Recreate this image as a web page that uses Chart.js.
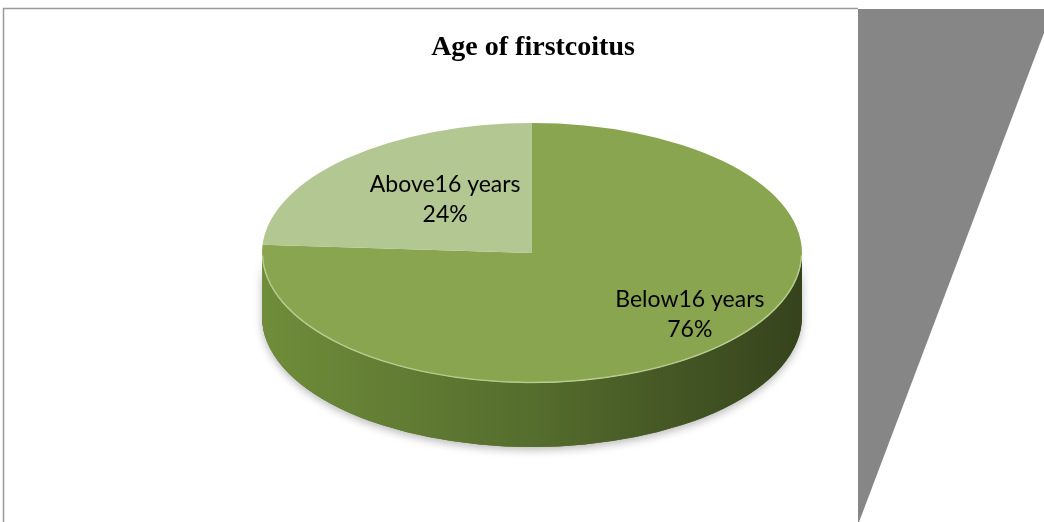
<!DOCTYPE html>
<html>
<head>
<meta charset="utf-8">
<title>Age of firstcoitus</title>
<script src="https://cdn.jsdelivr.net/npm/chart.js@4.4.1/dist/chart.umd.min.js"></script>
<style>
  html, body { margin: 0; padding: 0; background: #ffffff; }
  #wrap { width: 1044px; height: 522px; }
</style>
</head>
<body>
<div id="wrap"><canvas id="pie" width="1044" height="522"></canvas></div>
<script>
// Age-group categories and their shares (percent)
const categories = ['Below16 years', 'Above16 years'];
const shares = [76, 24];

// Top-face colours of the slices and the darker wall shades
const topColors = ['#8aa54f', '#b3c792'];
const wallStops = [['#6f8d3a', '#556d2d', '#35431c'], ['#8fa46d', '#7a8f5a', '#5f7046']];

// Geometry of the tilted disc
const disc = { cx: 532, cy: 253, rx: 270, ry: 130, depth: 64 };
// Label placement: fraction of radius and turn (degrees) from the slice's middle angle
const labelReach = [0.75, 0.52];
const labelTurn = [-8, 5];

function sliceArcs(chart) {
  return chart.getDatasetMeta(0).data;
}

// Maps a point of the flat library pie onto the tilted disc
function project(arc, px, py) {
  const R = arc.outerRadius;
  return {
    x: disc.cx + (px - arc.x) * disc.rx / R,
    y: disc.cy + (py - arc.y) * disc.ry / R
  };
}

const frame = {
  id: 'frame',
  beforeDraw(chart) {
    const ctx = chart.ctx;
    ctx.save();
    ctx.fillStyle = '#ffffff';
    ctx.fillRect(0, 0, chart.width, chart.height);
    // panel outline
    ctx.strokeStyle = '#9a9a9a';
    ctx.lineWidth = 1.5;
    ctx.beginPath();
    ctx.moveTo(3.5, chart.height);
    ctx.lineTo(3.5, 8.5);
    ctx.lineTo(858, 8.5);
    ctx.stroke();
    // grey wedge on the right
    ctx.fillStyle = '#868686';
    ctx.beginPath();
    ctx.moveTo(858, 9);
    ctx.lineTo(1044, 9);
    ctx.lineTo(1044, 33);
    ctx.lineTo(859, 522);
    ctx.lineTo(858, 522);
    ctx.closePath();
    ctx.fill();
    ctx.restore();
  }
};

const tilt = {
  id: 'tilt',
  beforeDatasetsDraw(chart) {
    const ctx = chart.ctx;
    const arcs = sliceArcs(chart);
    if (!arcs.length) return;
    const { cx, cy, rx, ry, depth } = disc;

    // soft shadow under the disc
    ctx.save();
    ctx.shadowColor = 'rgba(0,0,0,0.28)';
    ctx.shadowBlur = 9;
    ctx.shadowOffsetY = 3;
    ctx.fillStyle = '#556b2e';
    ctx.beginPath();
    ctx.ellipse(cx, cy + depth, rx, ry, 0, 0, Math.PI);
    ctx.lineTo(cx - rx, cy);
    ctx.ellipse(cx, cy, rx, ry, 0, Math.PI, 0, true);
    ctx.closePath();
    ctx.fill();
    ctx.restore();

    // side walls of the slices that face the viewer
    arcs.forEach((arc, i) => {
      const a0 = Math.max(arc.startAngle, 0);
      const a1 = Math.min(arc.endAngle, Math.PI);
      const b0 = Math.max(arc.startAngle - 2 * Math.PI, 0);
      const b1 = Math.min(arc.endAngle - 2 * Math.PI, Math.PI);
      [[a0, a1], [b0, b1]].forEach(([s, e]) => {
        if (e <= s) return;
        const g = ctx.createLinearGradient(cx - rx, 0, cx + rx, 0);
        const st = wallStops[i % wallStops.length];
        g.addColorStop(0, st[0]);
        g.addColorStop(0.5, st[1]);
        g.addColorStop(1, st[2]);
        ctx.save();
        ctx.fillStyle = g;
        ctx.beginPath();
        ctx.ellipse(cx, cy, rx, ry, 0, s, e);
        ctx.ellipse(cx, cy + depth, rx, ry, 0, e, s, true);
        ctx.closePath();
        ctx.fill();
        ctx.restore();
      });
    });

    // flatten the library's pie onto the disc's top face
    const arc = arcs[0];
    const R = arc.outerRadius;
    ctx.save();
    ctx.translate(cx, cy);
    ctx.scale(rx / R, ry / R);
    ctx.translate(-arc.x, -arc.y);
  },
  afterDatasetsDraw(chart) {
    const ctx = chart.ctx;
    const arcs = sliceArcs(chart);
    if (!arcs.length) return;
    ctx.restore();
    const { cx, cy, rx, ry } = disc;

    // light rim along the front edge of the top face
    ctx.save();
    ctx.strokeStyle = 'rgba(220,235,190,0.55)';
    ctx.lineWidth = 1.5;
    ctx.beginPath();
    ctx.ellipse(cx, cy, rx - 0.5, ry - 0.5, 0, 0.02, Math.PI - 0.02);
    ctx.stroke();
    ctx.restore();

    // data labels: category and share
    ctx.save();
    ctx.fillStyle = '#000000';
    ctx.textAlign = 'center';
    ctx.textBaseline = 'middle';
    ctx.font = '23px Lato, "Open Sans", sans-serif';
    arcs.forEach((a, i) => {
      const mid = (a.startAngle + a.endAngle) / 2 + labelTurn[i] * Math.PI / 180;
      const r = a.outerRadius * labelReach[i];
      const p = project(a, a.x + Math.cos(mid) * r, a.y + Math.sin(mid) * r);
      ctx.fillText(categories[i], p.x, p.y - 15);
      ctx.fillText(shares[i] + '%', p.x, p.y + 15);
    });
    ctx.restore();
  }
};

new Chart(document.getElementById('pie'), {
  type: 'pie',
  data: {
    labels: categories,
    datasets: [{
      data: shares,
      backgroundColor: topColors,
      borderWidth: 0,
      clip: false
    }]
  },
  options: {
    responsive: false,
    animation: false,
    events: [],
    layout: { padding: { left: 22, right: 0, top: 0, bottom: 20 } },
    plugins: {
      legend: { display: false },
      tooltip: { enabled: false },
      title: {
        display: true,
        text: 'Age of firstcoitus',
        color: '#000000',
        font: { family: '"Liberation Serif", "Times New Roman", serif', size: 28, weight: 'bold' },
        padding: { top: 31, bottom: 10 }
      }
    }
  },
  plugins: [frame, tilt]
});
</script>
</body>
</html>
